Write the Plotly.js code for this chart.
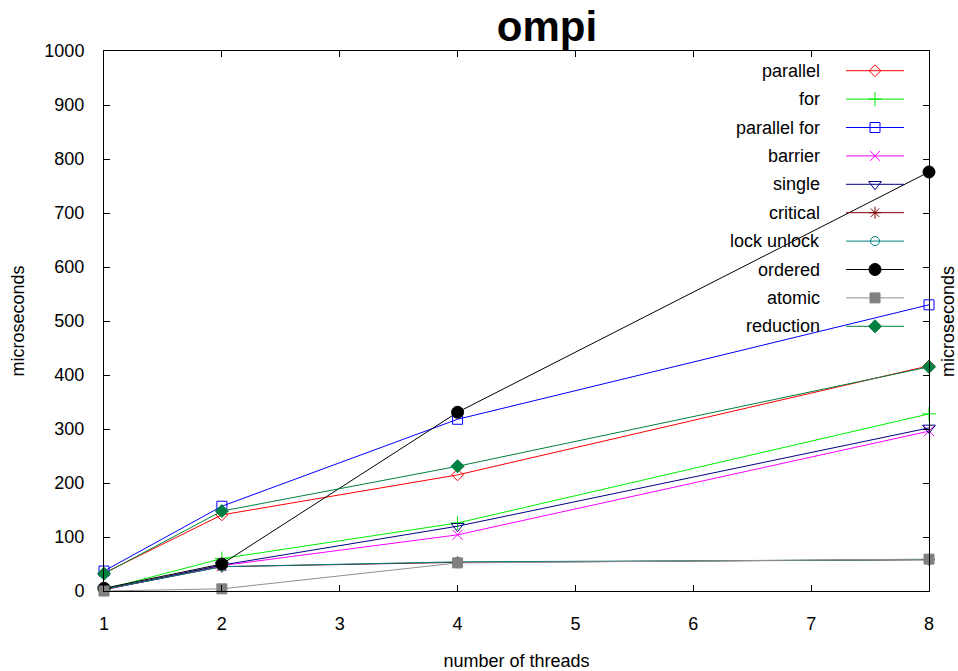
<!DOCTYPE html>
<html>
<head>
<meta charset="utf-8">
<script src="https://cdn.plot.ly/plotly-3.0.1.min.js"></script>
<style>html,body{margin:0;padding:0;background:#fff;}#chart{width:958px;height:671px;}</style>
</head>
<body>
<div id="chart"></div>
<script>
// ---- data ----
const threads = [1, 2, 4, 8];
const seriesNames = ["parallel", "for", "parallel for", "barrier", "single", "critical", "lock unlock", "ordered", "atomic", "reduction"];
const parallel     = [33, 141, 215, 417];
const forLoop      = [3, 60, 126, 328];
const parallelFor  = [37, 157, 318, 530];
const barrier      = [2, 47, 104, 296];
const single       = [3, 48, 120, 302];
const critical     = [3, 45, 53, 58];
const lockUnlock   = [3, 45, 54, 58];
const ordered      = [5, 50, 331, 776];
const atomic       = [0, 4, 52, 59];
const reduction    = [32, 148, 231, 415];
const xTicks = [1, 2, 3, 4, 5, 6, 7, 8];
const yTicks = [0, 100, 200, 300, 400, 500, 600, 700, 800, 900, 1000];

const values = [parallel, forLoop, parallelFor, barrier, single, critical, lockUnlock, ordered, atomic, reduction];
const styles = [
  {color: "#ff0000", line: "#ff0000", symbol: "diamond-open", size: 9},
  {color: "#00ee00", line: "#00ee00", symbol: "cross-thin-open", size: 10},
  {color: "#0000ff", line: "#0000ff", symbol: "square-open", size: 10},
  {color: "#ff00ff", line: "#ff00ff", symbol: "x-thin-open", size: 10},
  {color: "#000080", line: "#000080", symbol: "triangle-down-open", size: 11},
  {color: "#800000", line: "#800000", symbol: "asterisk-open", size: 10},
  {color: "#008080", line: "#008080", symbol: "circle-open", size: 9},
  {color: "#000000", line: "#000000", symbol: "circle", size: 12},
  {color: "#808080", line: "#909090", symbol: "square", size: 10},
  {color: "#008040", line: "#008040", symbol: "diamond", size: 10}
];

const traces = [];
values.forEach((v, i) => {
  const s = styles[i];
  traces.push({
    x: threads, y: v, type: "scatter", mode: "lines+markers", name: seriesNames[i],
    line: {color: s.line, width: 1},
    marker: {symbol: s.symbol, size: s.size, color: s.color, line: {color: s.color, width: 1}},
    showlegend: false, cliponaxis: false
  });
});

// ---- legend (gnuplot style: text left of sample) ----
const annotations = [];
const legTop = 70.7, legStep = 28.4;
const plotL = 104, plotW = 825, plotB = 591, plotH = 540;
const px = p => (p - plotL) / plotW;
const py = p => (plotB - p) / plotH;
seriesNames.forEach((n, i) => {
  const s = styles[i];
  const yy = py(legTop + legStep * i);
  traces.push({x: [px(846), px(904)], y: [yy, yy], xaxis: "x2", yaxis: "y2", type: "scatter", mode: "lines",
    line: {color: s.line, width: 1}, showlegend: false, hoverinfo: "skip"});
  traces.push({x: [px(875)], y: [yy], xaxis: "x2", yaxis: "y2", type: "scatter", mode: "markers",
    marker: {symbol: s.symbol, size: s.size, color: s.color, line: {color: s.color, width: 1}},
    showlegend: false, hoverinfo: "skip", cliponaxis: false});
  annotations.push({xref: "paper", yref: "paper", x: px(822), y: yy, xanchor: "right", yanchor: "middle",
    text: n, showarrow: false, font: {size: 18, color: "#000"}});
});

annotations.push({xref: "paper", yref: "paper", x: px(948), y: 0.5, xanchor: "center", yanchor: "middle",
  text: "microseconds", textangle: -90, showarrow: false, font: {size: 18, color: "#000"}});

const layout = {
  width: 958, height: 671,
  margin: {l: 104, r: 29, t: 51, b: 80, pad: 0},
  paper_bgcolor: "#fff", plot_bgcolor: "#fff",
  font: {family: "Liberation Sans, Arial, sans-serif", size: 18, color: "#000"},
  title: {text: "<b>ompi</b>", x: 547 / 958, xanchor: "center", y: 1 - 26 / 671, yanchor: "middle",
    font: {size: 42, color: "#000"}},
  showlegend: false,
  xaxis: {range: [1, 8], tickvals: xTicks, ticktext: xTicks.map(String), ticks: "inside", ticklen: 6,
    tickcolor: "#000", showline: true, linecolor: "#000", linewidth: 1, mirror: "ticks", showgrid: false,
    zeroline: false, fixedrange: true, ticklabelstandoff: 16, tickfont: {size: 18},
    title: {text: "number of threads", font: {size: 18}, standoff: 26}},
  yaxis: {range: [0, 1000], tickvals: yTicks, ticks: "inside", ticklen: 6, tickcolor: "#000",
    showline: true, linecolor: "#000", linewidth: 1, mirror: "ticks", showgrid: false, zeroline: false,
    fixedrange: true, ticklabelstandoff: 15, tickfont: {size: 18},
    title: {text: "microseconds", font: {size: 18}, standoff: 15}},
  xaxis2: {overlaying: "x", range: [0, 1], visible: false, fixedrange: true},
  yaxis2: {overlaying: "y", range: [0, 1], visible: false, fixedrange: true},
  annotations: annotations
};

Plotly.newPlot("chart", traces, layout, {displayModeBar: false, staticPlot: true});
</script>
</body>
</html>
